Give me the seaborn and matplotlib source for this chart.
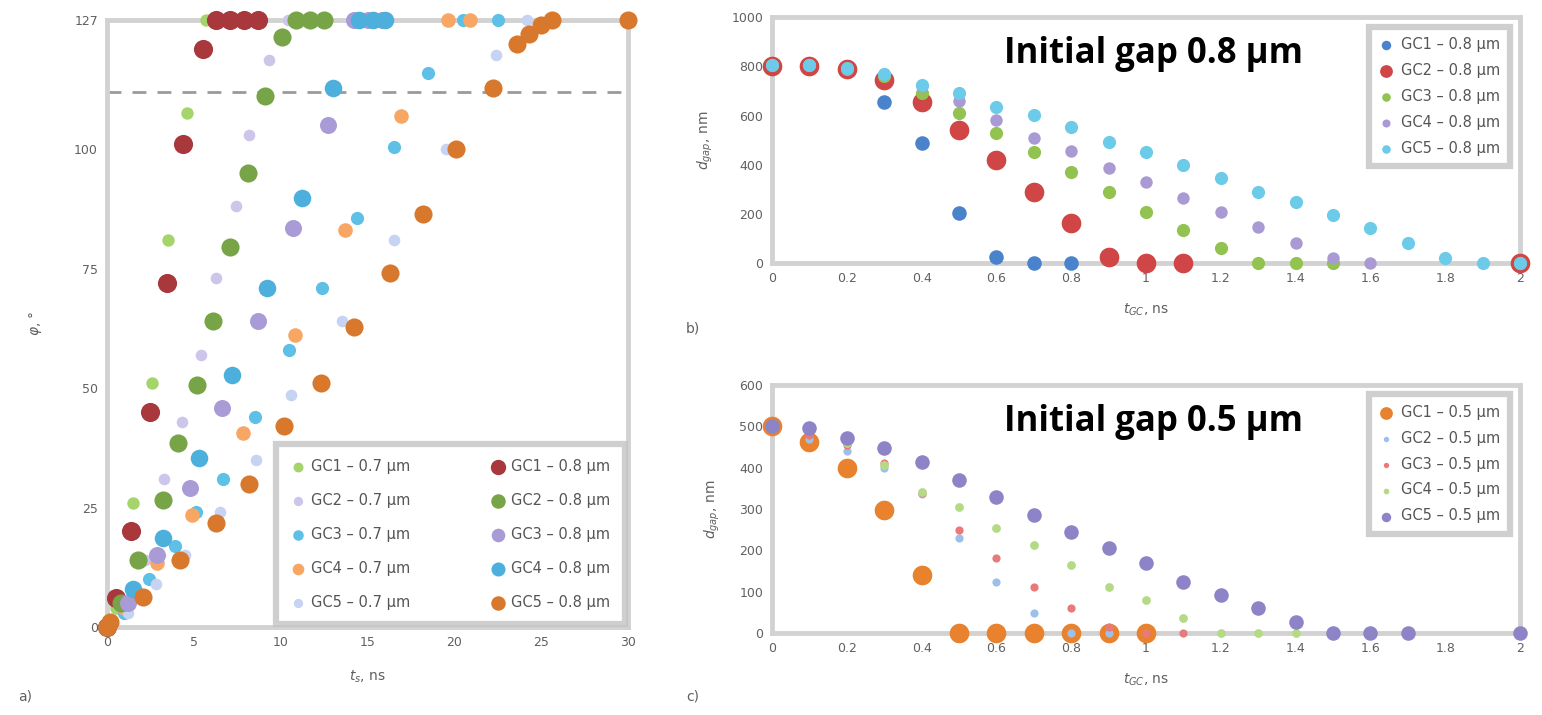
import numpy as np
import matplotlib
matplotlib.use('Agg')
import matplotlib.pyplot as plt
import seaborn as sns

nan = np.nan

# ---- panel a) : angle vs time, two initial gaps ----
a_labels = ['GC1 – 0.7 µm', 'GC2 – 0.7 µm', 'GC3 – 0.7 µm', 'GC4 – 0.7 µm', 'GC5 – 0.7 µm',
            'GC1 – 0.8 µm', 'GC2 – 0.8 µm', 'GC3 – 0.8 µm', 'GC4 – 0.8 µm', 'GC5 – 0.8 µm']
a_colors = ['#a6d46c', '#cdc5ea', '#5ec0e6', '#f7a664', '#c6d3f2',
            '#a8383b', '#76a446', '#a99bd6', '#4db0dc', '#d8782d']
a_sizes = [80, 70, 90, 110, 70, 190, 170, 150, 160, 170]

a_x = [
    [0, 0.5, 1.5, 2.6, 3.5, 4.6, 5.7, 6.7],
    [0, 1, 2.2, 3.3, 4.3, 5.4, 6.3, 7.4, 8.2, 9.3, 10.4, 11.3],
    [0, 1, 2.4, 3.9, 5.1, 6.7, 8.5, 10.5, 12.4, 14.4, 16.5, 18.5, 20.5, 22.5],
    [0, 1, 2.9, 4.9, 7.8, 10.8, 13.7, 16.9, 19.6, 20.9],
    [0, 1.2, 2.8, 4.5, 6.5, 8.6, 10.6, 13.5, 16.5, 19.5, 22.4, 24.2],
    [0, 0.5, 1.4, 2.5, 3.45, 4.4, 5.5, 6.3, 7.1, 7.9, 8.7],
    [0, 0.8, 1.8, 3.2, 4.1, 5.2, 6.1, 7.1, 8.1, 9.1, 10.1, 10.9, 11.7, 12.5],
    [0, 1.2, 2.9, 4.8, 6.6, 8.7, 10.7, 12.7, 14.2, 15, 15.8],
    [0, 1.5, 3.2, 5.3, 7.2, 9.2, 11.2, 13, 14.5, 15.3, 16],
    [0, 0.2, 2.1, 4.2, 6.3, 8.2, 10.2, 12.3, 14.2, 16.3, 18.2, 20.1, 22.2, 23.6, 24.3, 25, 25.6, 30],
]
a_y = [
    [0, 4, 26, 51, 81, 107.5, 127, 127],
    [0, 4, 14, 31, 43, 57, 73, 88, 103, 118.6, 127, 127],
    [0, 3, 10, 17, 24, 31, 44, 58, 71, 85.5, 100.5, 116, 127, 127],
    [0, 4, 13.4, 23.4, 40.5, 61, 83, 107, 127, 127],
    [0, 3, 9, 15, 24, 35, 48.5, 64, 81, 100, 119.6, 127],
    [0, 6, 20, 45, 72, 101, 121, 127, 127, 127, 127],
    [0, 5, 14, 26.6, 38.5, 50.6, 64, 79.5, 95, 111, 123.4, 127, 127, 127],
    [0, 5, 15, 29, 45.8, 64, 83.5, 105, 127, 127, 127],
    [0, 8, 18.6, 35.3, 52.7, 71, 89.7, 112.7, 127, 127, 127],
    [0, 1, 6.3, 14, 21.7, 30, 42, 51, 62.8, 74, 86.5, 100, 112.7, 122, 124, 126, 127, 127],
]
a_limit = 112

# ---- panels b) and c) : gap vs time ----
t_grid = [0, 0.1, 0.2, 0.3, 0.4, 0.5, 0.6, 0.7, 0.8, 0.9, 1.0,
          1.1, 1.2, 1.3, 1.4, 1.5, 1.6, 1.7, 1.8, 1.9, 2.0]

b_labels = ['GC1 – 0.8 µm', 'GC2 – 0.8 µm', 'GC3 – 0.8 µm', 'GC4 – 0.8 µm', 'GC5 – 0.8 µm']
b_colors = ['#4a83cc', '#d04545', '#92c250', '#a99ad4', '#6ccbe8']
b_sizes = [110, 200, 90, 80, 90]
b_gap = [
    [805, 805, 784, 655, 488, 203, 24, 0, 0, nan, nan, nan, nan, nan, nan, nan, nan, nan, nan, nan, 0],
    [800, 800, 790, 744, 655, 540, 419, 289, 163, 24, 0, 0, nan, nan, nan, nan, nan, nan, nan, nan, 0],
    [805, 805, 790, 760, 690, 610, 528, 451, 370, 289, 208, 134, 61, 0, 0, 0, nan, nan, nan, nan, 0],
    [805, 805, 790, 770, 720, 660, 580, 510, 455, 386, 329, 264, 208, 146, 81, 20, 0, nan, nan, nan, 0],
    [805, 805, 795, 770, 723, 691, 634, 602, 553, 492, 451, 398, 345, 289, 248, 195, 142, 81, 20, 0, 0],
]

c_labels = ['GC1 – 0.5 µm', 'GC2 – 0.5 µm', 'GC3 – 0.5 µm', 'GC4 – 0.5 µm', 'GC5 – 0.5 µm']
c_colors = ['#e8822e', '#9cc0ea', '#e87a7a', '#b5da86', '#8d84c8']
c_sizes = [200, 35, 35, 40, 110]
c_gap = [
    [500, 462, 399, 298, 140, 0, 0, 0, 0, 0, 0, nan, nan, nan, nan, nan, nan, nan, nan, nan, nan],
    [500, 470, 440, 400, 335, 230, 123, 48, 0, 0, nan, nan, nan, nan, nan, nan, nan, nan, nan, nan, nan],
    [500, 480, 455, 410, 339, 249, 182, 111, 60, 15, 0, 0, nan, nan, nan, nan, nan, nan, nan, nan, nan],
    [500, 490, 460, 407, 341, 305, 254, 213, 165, 111, 80, 36, 0, 0, 0, nan, nan, nan, nan, nan, nan],
    [500, 496, 472, 448, 414, 370, 329, 286, 244, 206, 169, 123, 92, 60, 27, 0, 0, 0, nan, nan, 0],
]

sns.set_style('white')
plt.rcParams['font.family'] = ['DejaVu Sans']

spine_col = '#d2d2d2'
tick_col = '#606060'


def style_axes(ax):
    for sp in ax.spines.values():
        sp.set_color(spine_col)
        sp.set_linewidth(3.5)
    ax.tick_params(colors=tick_col, labelsize=9, length=3, width=1, direction='out')


def style_legend(leg):
    fr = leg.get_frame()
    fr.set_edgecolor('#c4c4c4')
    fr.set_linewidth(4.5)
    for t in leg.get_texts():
        t.set_color('#555555')


fig = plt.figure(figsize=(15.42, 7.15), dpi=100)
ax_a = fig.add_axes([0.0694, 0.123, 0.338, 0.849])
ax_b = fig.add_axes([0.5007, 0.632, 0.485, 0.344])
ax_c = fig.add_axes([0.5007, 0.1147, 0.485, 0.347])

# a)
for xs, ys, lab, col, s in zip(a_x, a_y, a_labels, a_colors, a_sizes):
    sns.scatterplot(x=xs, y=ys, ax=ax_a, color=col, s=s, label=lab,
                    linewidth=0, clip_on=False, zorder=3)
ax_a.axhline(a_limit, color='#9a9a9a', lw=2, ls=(0, (5, 4)), zorder=1)
ax_a.set_xlim(0, 30)
ax_a.set_ylim(0, 127)
ax_a.set_xticks([0, 5, 10, 15, 20, 25, 30])
ax_a.set_yticks([0, 25, 50, 75, 100, 127])
ax_a.set_xlabel('$t_s$, ns', color=tick_col, fontsize=10, labelpad=14)
ax_a.set_ylabel('$\\varphi$, °', color=tick_col, fontsize=10, labelpad=22)
style_axes(ax_a)
leg = ax_a.legend(ncol=2, loc='lower right', fontsize=10.5, frameon=True, fancybox=False,
                  handletextpad=0.4, columnspacing=5.5, labelspacing=1.3,
                  borderpad=1.0, handlelength=1.0, borderaxespad=0.2, markerscale=0.8)
style_legend(leg)

# b) and c)
for ax, gaps, labs, cols, sizes, ymax, ystep, note in [
        (ax_b, b_gap, b_labels, b_colors, b_sizes, 1000, 200, 'Initial gap 0.8 µm'),
        (ax_c, c_gap, c_labels, c_colors, c_sizes, 600, 100, 'Initial gap 0.5 µm')]:
    for ys, lab, col, s in zip(gaps, labs, cols, sizes):
        sns.scatterplot(x=t_grid, y=ys, ax=ax, color=col, s=s, label=lab,
                        linewidth=0, clip_on=False, zorder=3)
    ax.set_xlim(0, 2)
    ax.set_ylim(0, ymax)
    ax.set_xticks([0, 0.2, 0.4, 0.6, 0.8, 1, 1.2, 1.4, 1.6, 1.8, 2])
    ax.set_xticklabels(['0', '0.2', '0.4', '0.6', '0.8', '1', '1.2', '1.4', '1.6', '1.8', '2'])
    ax.set_yticks(np.arange(0, ymax + 1, ystep))
    ax.set_xlabel('$t_{GC}$, ns', color=tick_col, fontsize=10, labelpad=12)
    ax.set_ylabel('$d_{gap}$, nm', color=tick_col, fontsize=10, labelpad=12)
    style_axes(ax)
    leg = ax.legend(loc='upper right', fontsize=10.5, frameon=True, fancybox=False,
                    handletextpad=0.5, labelspacing=0.75, borderpad=0.7,
                    handlelength=1.0, borderaxespad=0.4, markerscale=0.65,
                    bbox_to_anchor=(0.995, 0.985))
    style_legend(leg)
    ax.text(0.71, 0.85, note, transform=ax.transAxes, ha='right', va='center',
            fontsize=25, fontweight='bold', family=['Open Sans', 'DejaVu Sans'], color='black')

for lab, (fx, fy) in zip(['a)', 'b)', 'c)'], [(0.012, 0.02), (0.445, 0.535), (0.445, 0.02)]):
    fig.text(fx, fy, lab, color=tick_col, fontsize=10)

fig.savefig('out.png', dpi=100, facecolor='white')
